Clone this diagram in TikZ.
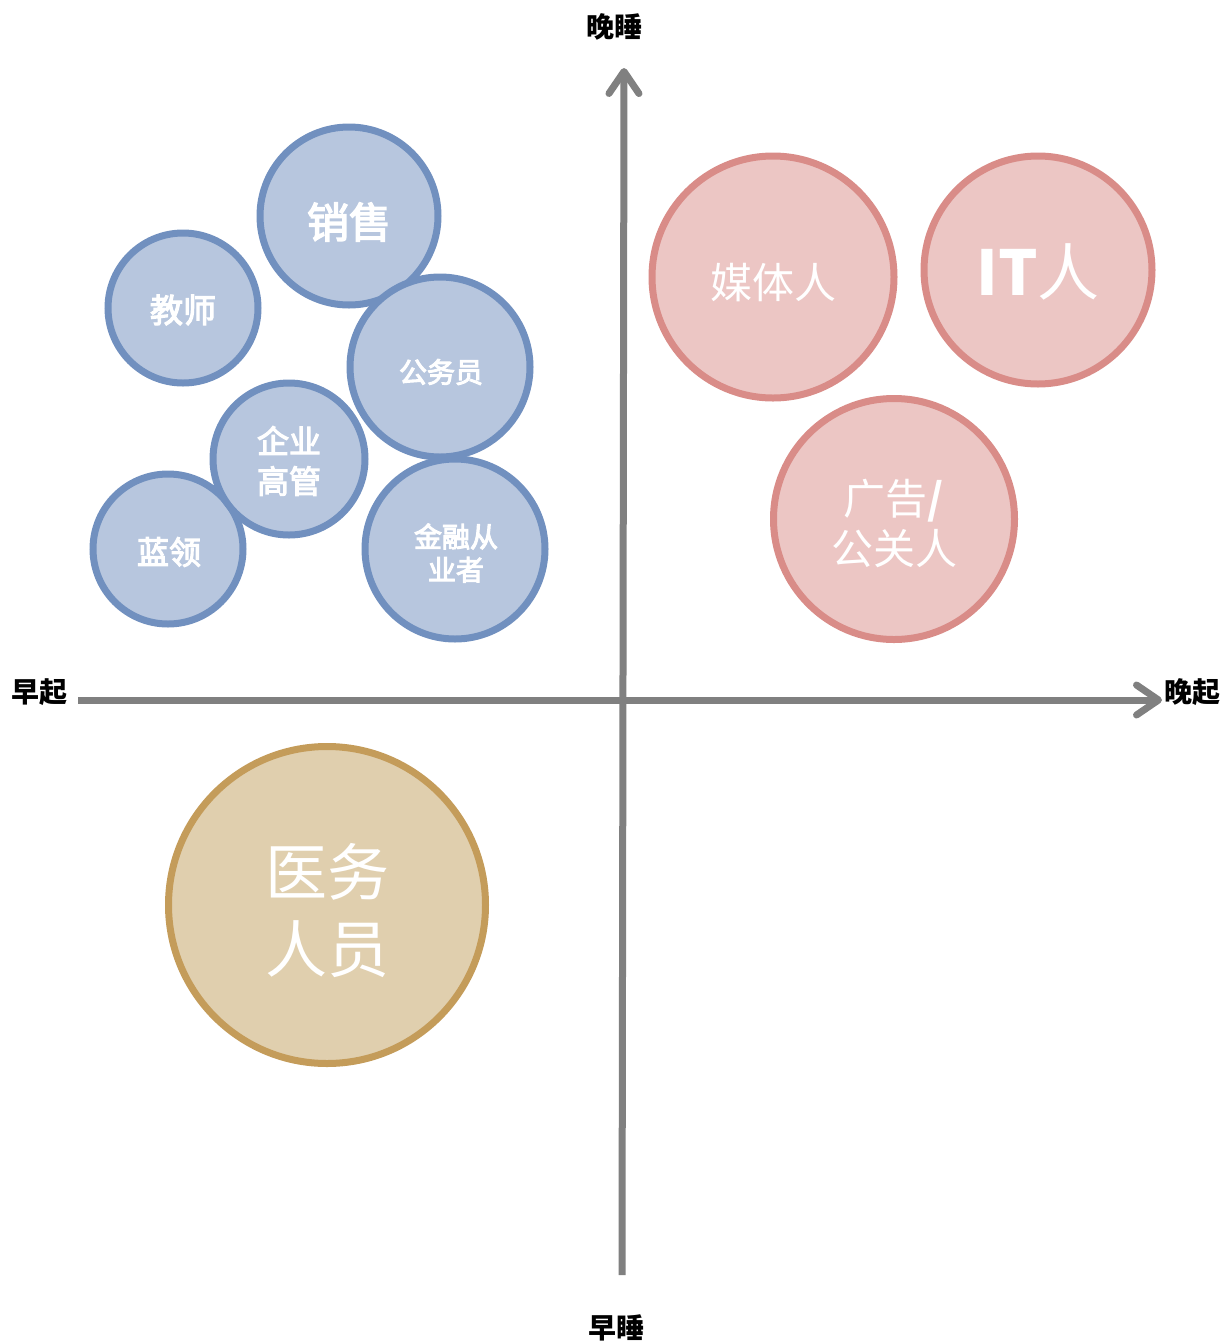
\documentclass[tikz,border=0pt]{standalone}
\usepackage{fontspec}
\setmainfont{Noto Sans CJK SC}
\newfontfamily\medcjk[FakeBold=3.5]{Noto Sans CJK SC}
\usetikzlibrary{arrows.meta}
\definecolor{bluefill}{HTML}{B7C6DE}
\definecolor{bluestroke}{HTML}{7190BF}
\definecolor{pinkfill}{HTML}{ECC6C4}
\definecolor{pinkstroke}{HTML}{D98C88}
\definecolor{goldfill}{HTML}{E0CFAE}
\definecolor{goldstroke}{HTML}{C49C5A}
\definecolor{axisgray}{HTML}{808080}
\tikzset{
  bubble/.style={circle, line width=7pt, inner sep=0pt},
  bluebub/.style={bubble, draw=bluestroke, fill=bluefill},
  pinkbub/.style={bubble, draw=pinkstroke, fill=pinkfill},
  goldbub/.style={bubble, draw=goldstroke, fill=goldfill},
  bubtext/.style={text=white, align=center, inner sep=0pt},
  axislabel/.style={font=\bfseries\fontsize{28}{34}\selectfont, text=black, inner sep=0pt},
  axisline/.style={draw=axisgray, line width=7pt, -{Straight Barb[length=22pt,width=30pt,round]}}
}
\newcommand{\fsz}[2]{\fontsize{#1}{#2}\selectfont}
\begin{document}
\begin{tikzpicture}[x=1pt,y=-1pt]
\useasboundingbox (0,0) rectangle (1224,1342);

% axes
\coordinate (xs) at (78,700);
\coordinate (xe) at (1162,700);
\coordinate (ys) at (622,1275);
\coordinate (ye) at (624,68);
\draw[axisline] (xs) -- (xe);
\draw[axisline] (ys) -- (ye);

\node[axislabel] (top) at (614,27) {晚睡};
\node[axislabel] (bottom) at (616,1328) {早睡};
\node[axislabel] (left) at (40,692) {早起};
\node[axislabel] (right) at (1192,692) {晚起};

% blue bubbles
\node[bluebub, minimum size=150pt] (jiaoshi) at (183,308) {};
\node[bluebub, minimum size=178pt] (xiaoshou) at (349,216) {};
\node[bluebub, minimum size=180pt] (gongwuyuan) at (440,367) {};
\node[bluebub, minimum size=150pt] (lanling) at (168,549) {};
\node[bluebub, minimum size=152pt] (gaoguan) at (289,459) {};
\node[bluebub, minimum size=180pt] (jinrong) at (455,549) {};

% pink bubbles
\node[pinkbub, minimum size=242pt] (meiti) at (773,277) {};
\node[pinkbub, minimum size=228pt] (it) at (1038,270) {};
\node[pinkbub, minimum size=241pt] (guanggao) at (894,519) {};

% gold bubble
\node[goldbub, minimum size=317pt] (yiwu) at (327,905) {};

% texts
\node[bubtext, font=\medcjk\fsz{33}{40}] (t-jiaoshi) at (183,310) {教师};
\node[bubtext, font=\medcjk\fsz{42}{50}] (t-xiaoshou) at (349,222) {销售};
\node[bubtext, font=\medcjk\fsz{28}{34}] (t-gongwuyuan) at (441,372) {公务员};
\node[bubtext, font=\medcjk\fsz{32}{40}] (t-lanling) at (169,552) {蓝领};
\node[bubtext, font=\medcjk\fsz{32}{40}] (t-gaoguan) at (289,461) {企业\\高管};
\node[bubtext, font=\medcjk\fsz{28}{33}] (t-jinrong) at (456,553) {金融从\\业者};
\node[bubtext, font=\fsz{42}{50}] (t-meiti) at (773,283) {媒体人};
\node[bubtext, font=\fsz{62}{70}] (t-it) at (1038,272) {\textbf{IT}人};
\node[bubtext, font=\fsz{42}{50}] (t-guanggao) at (894,523) {广告\textbf{/}\\公关人};
\node[bubtext, font=\fsz{62}{77}] (t-yiwu) at (327,911) {医务\\人员};
\end{tikzpicture}
\end{document}
